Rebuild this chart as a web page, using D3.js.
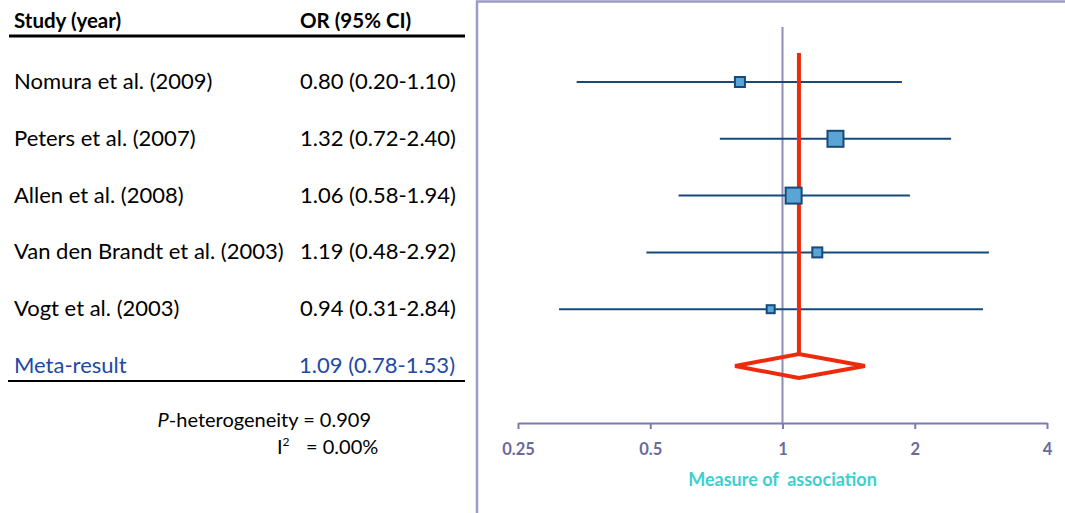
<!DOCTYPE html>
<html>
<head>
<meta charset="utf-8">
<script src="https://cdn.jsdelivr.net/npm/d3@7"></script>
<style>
body { margin: 0; background: #fff; }
svg { display: block; font-family: Lato, "Open Sans", sans-serif; }
</style>
</head>
<body>
<svg id="chart" width="1065" height="513"></svg>
<script>
// studies, as printed in the table
var studies = ["Nomura et al. (2009)", "Peters et al. (2007)", "Allen et al. (2008)", "Van den Brandt et al. (2003)", "Vogt et al. (2003)"];
var orText = ["0.80 (0.20-1.10)", "1.32 (0.72-2.40)", "1.06 (0.58-1.94)", "1.19 (0.48-2.92)", "0.94 (0.31-2.84)"];
// values as drawn on the plot
var orValue = [0.80, 1.32, 1.06, 1.20, 0.94];
var ciLow = [0.34, 0.72, 0.58, 0.49, 0.31];
var ciHigh = [1.87, 2.42, 1.95, 2.95, 2.86];
var weights = [10, 16, 16, 10, 8];
var meta = {label: "Meta-result", text: "1.09 (0.78-1.53)", or: 1.09, low: 0.78, high: 1.54};
var ticks = [0.25, 0.5, 1, 2, 4];

var svg = d3.select("#chart");

var x = d3.scaleLog().base(2).domain([0.25, 4]).range([518, 1047]);
var rows = studies.concat([meta.label]);
var y = d3.scalePoint().domain(rows).range([82, 366]);

// ---- table side ----
var tbl = svg.append("g");
tbl.append("text").attr("x", 14).attr("y", 28).attr("font-size", 20.5).attr("font-weight", "bold").text("Study (year)");
tbl.append("text").attr("x", 300).attr("y", 28).attr("font-size", 20.5).attr("font-weight", "bold").text("OR (95% CI)");
tbl.append("line").attr("x1", 9).attr("x2", 465).attr("y1", 36).attr("y2", 36).attr("stroke", "#000").attr("stroke-width", 3);

tbl.selectAll(".lab").data(studies).enter().append("text")
  .attr("x", 14).attr("y", function(d) { return y(d) + 7; })
  .attr("font-size", 22).text(function(d) { return d; });
tbl.selectAll(".val").data(orText).enter().append("text")
  .attr("x", 300).attr("y", function(d, i) { return y(studies[i]) + 7; })
  .attr("font-size", 22).text(function(d) { return d; });

tbl.append("text").attr("x", 14).attr("y", y(meta.label) + 7).attr("font-size", 22).attr("fill", "#2149a6").text(meta.label);
tbl.append("text").attr("x", 455).attr("y", y(meta.label) + 7).attr("text-anchor", "end").attr("font-size", 22).attr("fill", "#2149a6").text(meta.text);
tbl.append("line").attr("x1", 8).attr("x2", 465).attr("y1", 381).attr("y2", 381).attr("stroke", "#000").attr("stroke-width", 2);

var het = tbl.append("text").attr("x", 371).attr("y", 427).attr("text-anchor", "end").attr("font-size", 20);
het.append("tspan").attr("font-style", "italic").text("P");
het.append("tspan").text("-heterogeneity = 0.909");
var i2 = tbl.append("text").attr("x", 277).attr("y", 454).attr("font-size", 20);
i2.append("tspan").text("I");
i2.append("tspan").attr("font-size", 12).attr("dy", -8).text("2");
i2.append("tspan").attr("dy", 8).attr("x", 306).text("= 0.00%");

// ---- plot side ----
svg.append("path").attr("d", "M477,513 V1.5 H1065").attr("fill", "none").attr("stroke", "#9c9cc4").attr("stroke-width", 2.5);

// axis
var axis = svg.append("g").attr("transform", "translate(0,423)")
  .call(d3.axisBottom(x).tickValues(ticks).tickSize(6).tickSizeOuter(0).tickFormat(function(d) { return String(d); }));
axis.select(".domain").attr("stroke", "#7b7bb0").attr("stroke-width", 2);
axis.selectAll(".tick line").attr("stroke", "#7b7bb0").attr("stroke-width", 2);
axis.selectAll(".tick text").attr("font-size", 16.5).attr("font-weight", "bold").attr("fill", "#6a6a9c")
  .attr("font-family", "Lato, sans-serif").attr("y", 32).attr("dy", 0);

svg.append("text").attr("x", x(1)).attr("y", 486).attr("text-anchor", "middle").attr("xml:space", "preserve")
  .style("white-space", "pre")
  .attr("font-size", 18).attr("font-weight", "bold").attr("fill", "#3ecfcf").text("Measure of  association");

// null line
svg.append("line").attr("x1", x(1)).attr("x2", x(1)).attr("y1", 27).attr("y2", 423).attr("stroke", "#8e8eb8").attr("stroke-width", 2);

// CI lines
svg.selectAll(".ci").data(studies).enter().append("line")
  .attr("x1", function(d, i) { return x(ciLow[i]); })
  .attr("x2", function(d, i) { return x(ciHigh[i]); })
  .attr("y1", function(d) { return y(d); })
  .attr("y2", function(d) { return y(d); })
  .attr("stroke", "#154a7a").attr("stroke-width", 2);

// meta line
svg.append("line").attr("x1", x(meta.or)).attr("x2", x(meta.or)).attr("y1", 53).attr("y2", y(meta.label) - 12)
  .attr("stroke", "#ee2a0c").attr("stroke-width", 4);

// boxes
svg.selectAll(".box").data(studies).enter().append("rect")
  .attr("x", function(d, i) { return x(orValue[i]) - weights[i] / 2; })
  .attr("y", function(d, i) { return y(d) - weights[i] / 2; })
  .attr("width", function(d, i) { return weights[i]; })
  .attr("height", function(d, i) { return weights[i]; })
  .attr("fill", "#5aa5d6").attr("stroke", "#154a7a").attr("stroke-width", 2);

// diamond
var my = y(meta.label);
svg.append("path")
  .attr("d", "M" + x(meta.low) + "," + my + "L" + x(meta.or) + "," + (my - 12) + "L" + x(meta.high) + "," + my + "L" + x(meta.or) + "," + (my + 12) + "Z")
  .attr("fill", "none").attr("stroke", "#ee2a0c").attr("stroke-width", 4).attr("stroke-linejoin", "miter");
</script>
</body>
</html>
